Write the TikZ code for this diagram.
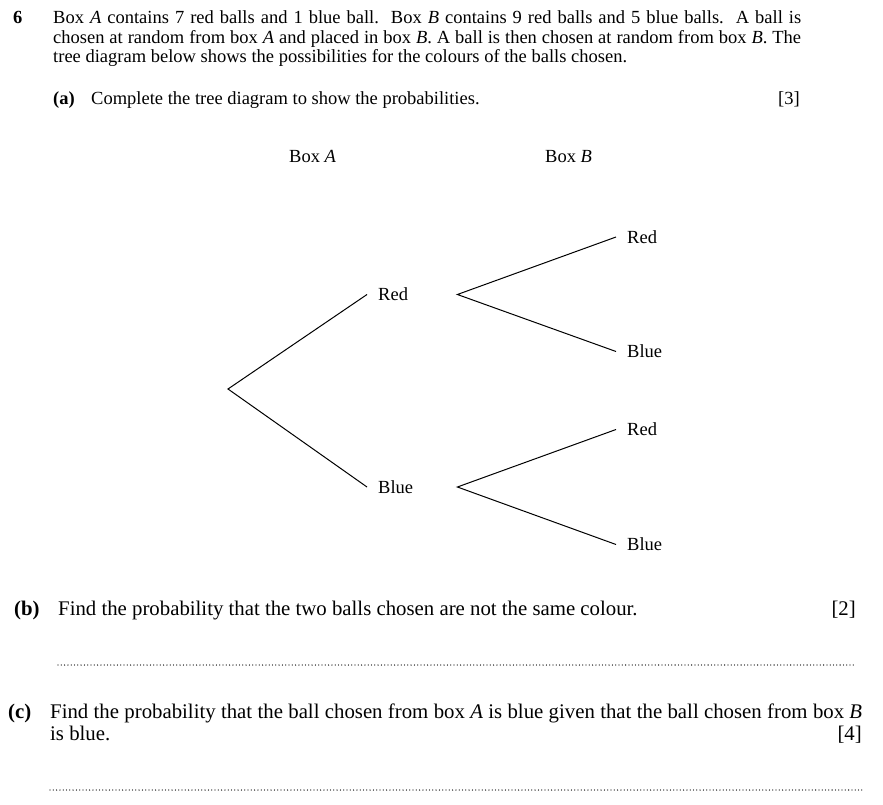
\documentclass[tikz,border=0pt]{standalone}
\usepackage{fontspec}
\setmainfont{Liberation Serif}
\usepackage{tikz}
\usetikzlibrary{positioning,calc}

\tikzset{
  txt/.style={anchor=base west,inner sep=0pt,font=\fontsize{18.5}{20}\selectfont},
  bigtxt/.style={anchor=base west,inner sep=0pt,font=\fontsize{20.8}{22}\selectfont},
  marks/.style={anchor=base east,inner sep=0pt},
  branch/.style={line width=1pt},
  lvlone/.style={anchor=west,inner ysep=2pt,inner xsep=11pt,text width=68pt,align=left,font=\fontsize{18.5}{20}\selectfont},
  lvltwo/.style={anchor=west,inner ysep=2pt,inner xsep=11pt,font=\fontsize{18.5}{20}\selectfont},
  answerline/.style={line width=1.3pt,line cap=round,dash pattern=on 0pt off 3.3pt}
}

\begin{document}
\begin{tikzpicture}[x=1pt,y=-1pt]
\useasboundingbox (0,0) rectangle (883,805);

% question text
\node[txt,font=\fontsize{18.5}{20}\selectfont\bfseries] (qnum) at (13,23.5) {6};
\node[txt] (line1) at (53,23.5) {\makebox[748pt][s]{Box \textit{A} contains 7 red balls and 1 blue ball.\ \ Box \textit{B} contains 9 red balls and 5 blue balls.\ \ A ball is}};
\node[txt] (line2) at (53,43.5) {\makebox[748pt][s]{chosen at random from box \textit{A} and placed in box \textit{B}. A ball is then chosen at random from box \textit{B}. The}};
\node[txt] (line3) at (53,63) {tree diagram below shows the possibilities for the colours of the balls chosen.};

% part (a)
\node[txt,font=\fontsize{18.5}{20}\selectfont\bfseries] (pa) at (53,105) {(a)};
\node[txt] (patext) at (91,105) {Complete the tree diagram to show the probabilities.};
\node[txt,marks] (pamark) at (800,105) {[3]};

\node[txt] (boxA) at (289,163) {Box \textit{A}};
\node[txt] (boxB) at (545,163) {Box \textit{B}};

% tree
\coordinate (root) at (228,389);
\node[lvlone] (red) at (367,294.5) {Red};
\node[lvlone] (blue) at (367,487) {Blue};
\node[lvltwo] (redred) at (616,237) {Red};
\node[lvltwo] (redblue) at (616,351.5) {Blue};
\node[lvltwo] (bluered) at (616,429.5) {Red};
\node[lvltwo] (blueblue) at (616,544.5) {Blue};

\draw[branch] (red.west) -- (root) -- (blue.west);
\draw[branch] (redred.west) -- (red.east) -- (redblue.west);
\draw[branch] (bluered.west) -- (blue.east) -- (blueblue.west);

% part (b)
\node[bigtxt,font=\fontsize{20.8}{22}\selectfont\bfseries] (pb) at (14,615.5) {(b)};
\node[bigtxt] (pbtext) at (58,615.5) {Find the probability that the two balls chosen are not the same colour.};
\node[bigtxt,marks] (pbmark) at (856,615.5) {[2]};
\coordinate (ansb1) at (58,665);
\coordinate (ansb2) at (856,665);
\draw[answerline] (ansb1) -- (ansb2);

% part (c)
\node[bigtxt,font=\fontsize{20.8}{22}\selectfont\bfseries] (pc) at (8,718) {(c)};
\node[bigtxt] (pctext) at (50,718) {\makebox[812pt][s]{Find the probability that the ball chosen from box \textit{A} is blue given that the ball chosen from box \textit{B}}};
\node[bigtxt] (pctext2) at (50,740) {is blue.};
\node[bigtxt,marks] (pcmark) at (862,740) {[4]};
\coordinate (ansc1) at (50,790);
\coordinate (ansc2) at (862,790);
\draw[answerline] (ansc1) -- (ansc2);
\end{tikzpicture}
\end{document}
